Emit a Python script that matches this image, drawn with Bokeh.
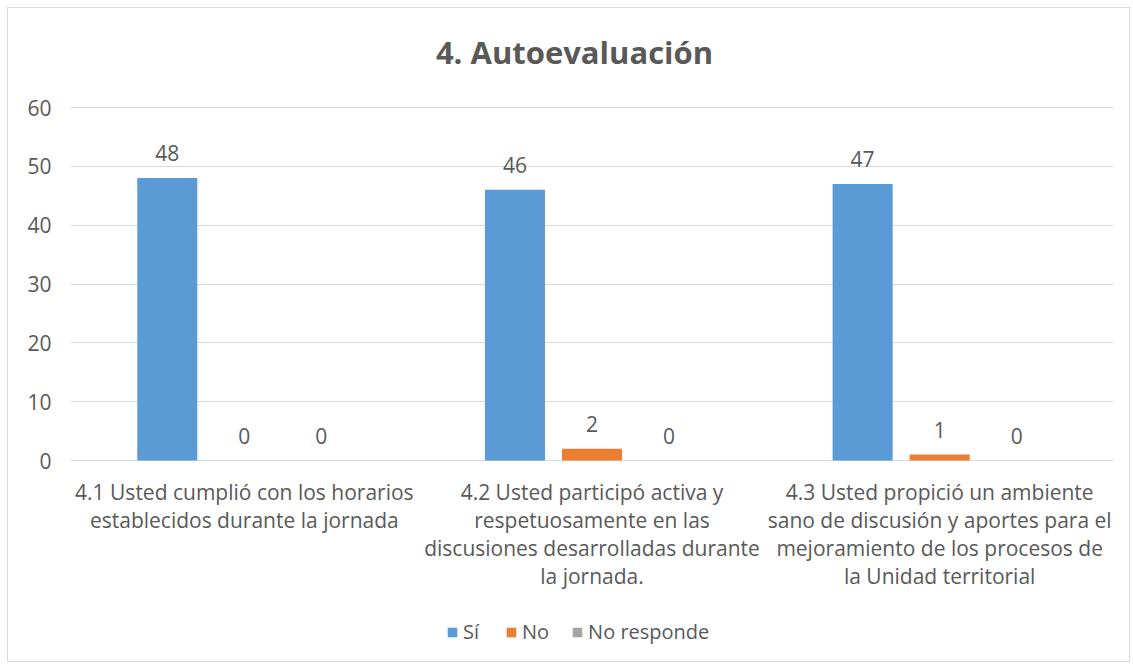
from bokeh.plotting import figure
from bokeh.models import ColumnDataSource, FixedTicker, Legend, LegendItem, Label, Range1d
from bokeh.core.properties import value
from bokeh.embed import file_html
from bokeh.resources import INLINE

title_text = "4. Autoevaluación"
categories = [
    "4.1 Usted cumplió con los horarios\nestablecidos durante la jornada",
    "4.2 Usted participó activa y\nrespetuosamente en las\ndiscusiones desarrolladas durante\nla jornada.",
    "4.3 Usted propició un ambiente\nsano de discusión y aportes para el\nmejoramiento de los procesos de\nla Unidad territorial",
]
series_names = ["Sí", "No", "No responde"]
si_values = [48, 46, 47]
no_values = [0, 2, 1]
nr_values = [0, 0, 0]
colors = ["#5B9BD5", "#ED7D31", "#A5A5A5"]
y_ticks = [0, 10, 20, 30, 40, 50, 60]

FONT = "Open Sans"
TXT = "#595959"

# frame covers the whole chart area; value axis 0..60 occupies 353 px of it
PX_PER_UNIT = 353 / 60
FRAME_H = 653
TOP_PAD = 99      # px above the 60 line
y_end = 60 + TOP_PAD / PX_PER_UNIT
y_start = y_end - FRAME_H / PX_PER_UNIT

p = figure(frame_width=1043, frame_height=FRAME_H, x_range=Range1d(0, 3),
           y_range=Range1d(y_start, y_end),
           output_backend="svg", toolbar_location=None,
           min_border_left=62, min_border_right=16, min_border_top=0,
           min_border_bottom=0)

offsets = [-0.2216, 0.0, 0.2216]
bw = 0.1727
all_vals = [si_values, no_values, nr_values]
renderers = []
for k, vals in enumerate(all_vals):
    xs = [i + 0.5 + offsets[k] for i in range(len(categories))]
    src = ColumnDataSource(dict(x=xs, top=vals, lab=[str(v) for v in vals]))
    r = p.vbar(x="x", top="top", bottom=0, width=bw, source=src, fill_color=colors[k],
               line_color=None)
    renderers.append(r)
    p.text(x="x", y="top", text="lab", source=src, text_align="center",
           text_baseline="bottom", y_offset=-17, text_font=value(FONT),
           text_font_size="21px", text_color=TXT)

# category labels under the value axis
cat_src = ColumnDataSource(dict(x=[i + 0.5 for i in range(len(categories))],
                                y=[0] * len(categories), t=categories))
p.text(x="x", y="y", text="t", source=cat_src, text_align="center",
       text_baseline="top", y_offset=17, text_font=value(FONT),
       text_font_size="21px", text_color=TXT, text_line_height=1.0)

# title
p.add_layout(Label(x=(574 - 70) / 347.67, y=y_end - (51 - 8) / PX_PER_UNIT,
                   text=title_text, text_align="center", text_baseline="middle",
                   text_font=FONT, text_font_size="31px", text_font_style="bold",
                   text_color=TXT))

p.xaxis.visible = False

p.yaxis.ticker = FixedTicker(ticks=y_ticks)
p.yaxis.major_label_text_font = FONT
p.yaxis.major_label_text_font_size = "21px"
p.yaxis.major_label_text_color = TXT
p.yaxis.major_label_standoff = 13
p.yaxis.major_tick_line_color = None
p.yaxis.minor_tick_line_color = None
p.yaxis.axis_line_color = None

p.xgrid.grid_line_color = None
p.ygrid.grid_line_color = "#D9D9D9"
p.ygrid.ticker = FixedTicker(ticks=y_ticks)
p.outline_line_color = None

legend = Legend(items=[LegendItem(label=series_names[k], renderers=[renderers[k]]) for k in range(3)],
                orientation="horizontal", location=(376, 16))
legend.label_text_font = FONT
legend.label_text_font_size = "20px"
legend.label_text_color = TXT
legend.glyph_width = 12
legend.glyph_height = 12
legend.label_standoff = 5
legend.spacing = 22
legend.border_line_color = None
legend.background_fill_alpha = 0
legend.margin = 0
legend.padding = 0
p.add_layout(legend)

p.styles = {"margin": "7px 0 0 7px", "border": "1px solid #D9D9D9"}

open("out.html", "w").write(file_html(p, INLINE))
